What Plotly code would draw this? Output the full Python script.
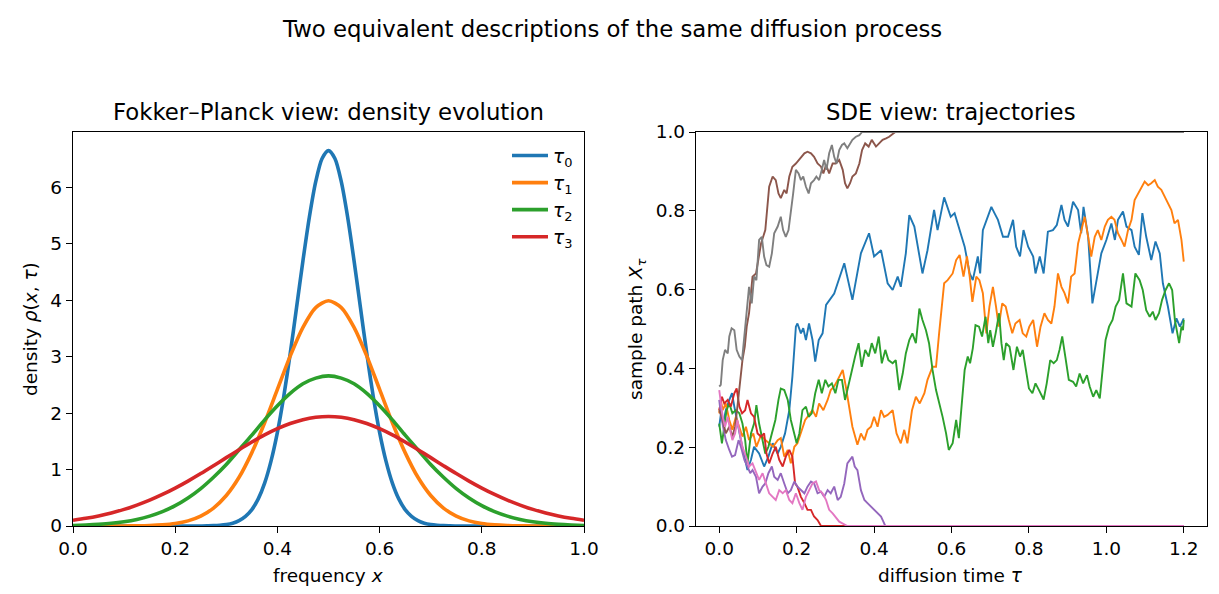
import plotly.graph_objects as go
from plotly.subplots import make_subplots

# ---- left panel: density curves ----
x_grid = [0.0, 0.025, 0.05, 0.075, 0.1, 0.125, 0.15, 0.175, 0.2, 0.225, 0.25, 0.275, 0.3, 0.325, 0.35,
          0.375, 0.4, 0.425, 0.45, 0.475, 0.5, 0.525, 0.55, 0.575, 0.6, 0.625, 0.65, 0.675, 0.7,
          0.725, 0.75, 0.775, 0.8, 0.825, 0.85, 0.875, 0.9, 0.925, 0.95, 0.975, 1.0]

# the narrow tau0 curve is read on a finer grid
x_fine = [0.0, 0.2, 0.25, 0.2625, 0.275, 0.2875, 0.3, 0.3125, 0.325, 0.3375, 0.35, 0.3625, 0.375, 0.3875, 0.4,
          0.4125, 0.425, 0.4375, 0.45, 0.4625, 0.475, 0.4875, 0.5, 0.5125, 0.525, 0.5375, 0.55, 0.5625, 0.575,
          0.5875, 0.6, 0.6125, 0.625, 0.6375, 0.65, 0.6625, 0.675, 0.6875, 0.7, 0.7125, 0.725, 0.7375, 0.75, 0.8, 1.0]
rho_tau0 = [0, 0, 0.001, 0.003, 0.006, 0.013, 0.026, 0.050, 0.094, 0.17, 0.29, 0.48, 0.76, 1.15, 1.66,
            2.30, 3.05, 3.87, 4.70, 5.47, 6.10, 6.51, 6.65, 6.51, 6.10, 5.47, 4.70, 3.87, 3.05,
            2.30, 1.66, 1.15, 0.76, 0.48, 0.29, 0.17, 0.094, 0.050, 0.026, 0.013, 0.006, 0.003, 0.001, 0, 0]
rho_tau1 = [0, 0.0001, 0.0002, 0.0005, 0.0013, 0.0035, 0.0087, 0.020, 0.044, 0.091, 0.175, 0.318, 0.540, 0.863,
            1.30, 1.83, 2.42, 3.01, 3.52, 3.87, 3.99, 3.87, 3.52, 3.01, 2.42, 1.83, 1.30, 0.863, 0.540,
            0.318, 0.175, 0.091, 0.044, 0.020, 0.0087, 0.0035, 0.0013, 0.0005, 0.0002, 0.0001, 0]
rho_tau2 = [0.010, 0.018, 0.030, 0.048, 0.076, 0.117, 0.175, 0.254, 0.360, 0.496, 0.663, 0.864, 1.09, 1.35,
            1.61, 1.88, 2.13, 2.35, 2.52, 2.62, 2.66, 2.62, 2.52, 2.35, 2.13, 1.88, 1.61, 1.35, 1.09,
            0.864, 0.663, 0.496, 0.360, 0.254, 0.175, 0.117, 0.076, 0.048, 0.030, 0.018, 0.010]
rho_tau3 = [0.102, 0.136, 0.178, 0.231, 0.294, 0.370, 0.458, 0.559, 0.672, 0.796, 0.929, 1.069, 1.211, 1.352,
            1.488, 1.614, 1.724, 1.816, 1.884, 1.926, 1.94, 1.926, 1.884, 1.816, 1.724, 1.614, 1.488,
            1.352, 1.211, 1.069, 0.929, 0.796, 0.672, 0.559, 0.458, 0.370, 0.294, 0.231, 0.178, 0.136, 0.102]

density_names = ["<i>τ</i><sub>0</sub>", "<i>τ</i><sub>1</sub>", "<i>τ</i><sub>2</sub>", "<i>τ</i><sub>3</sub>"]

# ---- right panel: sample paths as (tau, X) pairs ----
path_blue = [(0, 0.252), (0.004, 0.282), (0.01, 0.26), (0.017, 0.294), (0.026, 0.32), (0.033, 0.337), (0.039, 0.303),
             (0.047, 0.26), (0.056, 0.218), (0.065, 0.176), (0.073, 0.142), (0.082, 0.168), (0.09, 0.201), (0.103, 0.184),
             (0.116, 0.151), (0.127, 0.176), (0.138, 0.21), (0.151, 0.184), (0.159, 0.201), (0.17, 0.235), (0.181, 0.294),
             (0.189, 0.379), (0.198, 0.506), (0.202, 0.514), (0.211, 0.489), (0.217, 0.502), (0.224, 0.472), (0.232, 0.514),
             (0.241, 0.472), (0.248, 0.417), (0.257, 0.472), (0.267, 0.489), (0.276, 0.561), (0.297, 0.59), (0.323, 0.667),
             (0.344, 0.574), (0.366, 0.692), (0.387, 0.743), (0.40, 0.684), (0.418, 0.70), (0.435, 0.616), (0.448, 0.599),
             (0.461, 0.633), (0.469, 0.607), (0.482, 0.692), (0.491, 0.789), (0.504, 0.76), (0.525, 0.641), (0.538, 0.70),
             (0.555, 0.802), (0.564, 0.751), (0.581, 0.834), (0.598, 0.785), (0.608, 0.794), (0.621, 0.751), (0.634, 0.709),
             (0.647, 0.641), (0.655, 0.624), (0.668, 0.684), (0.674, 0.641), (0.681, 0.751), (0.694, 0.785), (0.703, 0.81),
             (0.711, 0.794), (0.72, 0.777), (0.733, 0.734), (0.746, 0.734), (0.759, 0.777), (0.767, 0.709), (0.777, 0.684),
             (0.786, 0.751), (0.798, 0.709), (0.811, 0.684), (0.817, 0.641), (0.828, 0.684), (0.838, 0.641), (0.849, 0.747),
             (0.862, 0.751), (0.872, 0.764), (0.884, 0.815), (0.892, 0.777), (0.901, 0.76), (0.914, 0.823), (0.927, 0.802),
             (0.935, 0.743), (0.941, 0.81), (0.953, 0.734), (0.964, 0.565), (0.974, 0.624), (0.987, 0.692), (1.0, 0.726),
             (1.013, 0.768), (1.022, 0.726), (1.03, 0.777), (1.043, 0.798), (1.052, 0.76), (1.065, 0.751), (1.073, 0.709),
             (1.084, 0.688), (1.093, 0.794), (1.103, 0.734), (1.116, 0.675), (1.127, 0.722), (1.138, 0.692), (1.146, 0.616),
             (1.159, 0.557), (1.171, 0.489), (1.181, 0.527), (1.19, 0.506), (1.2, 0.527)]

path_orange = [(0, 0.286), (0.004, 0.32), (0.009, 0.294), (0.017, 0.311), (0.026, 0.269), (0.034, 0.244), (0.043, 0.277),
               (0.052, 0.252), (0.06, 0.227), (0.069, 0.252), (0.077, 0.218), (0.088, 0.235), (0.096, 0.201), (0.108, 0.231),
               (0.119, 0.218), (0.129, 0.21), (0.139, 0.201), (0.151, 0.218), (0.159, 0.223), (0.168, 0.176), (0.177, 0.193),
               (0.185, 0.159), (0.194, 0.201), (0.202, 0.21), (0.211, 0.235), (0.222, 0.269), (0.232, 0.282), (0.241, 0.294),
               (0.25, 0.277), (0.258, 0.311), (0.269, 0.294), (0.28, 0.32), (0.288, 0.345), (0.297, 0.354), (0.306, 0.371),
               (0.319, 0.396), (0.327, 0.354), (0.336, 0.303), (0.344, 0.252), (0.357, 0.206), (0.366, 0.235), (0.375, 0.218),
               (0.383, 0.244), (0.392, 0.252), (0.40, 0.277), (0.409, 0.252), (0.418, 0.294), (0.426, 0.277), (0.435, 0.282),
               (0.448, 0.294), (0.458, 0.235), (0.469, 0.21), (0.478, 0.244), (0.486, 0.21), (0.498, 0.294), (0.508, 0.328),
               (0.518, 0.311), (0.53, 0.337), (0.538, 0.371), (0.551, 0.404), (0.56, 0.404), (0.568, 0.489), (0.581, 0.616),
               (0.59, 0.624), (0.603, 0.641), (0.612, 0.675), (0.621, 0.688), (0.631, 0.633), (0.64, 0.684), (0.647, 0.633),
               (0.654, 0.569), (0.664, 0.633), (0.672, 0.624), (0.681, 0.591), (0.69, 0.489), (0.698, 0.557), (0.707, 0.607),
               (0.715, 0.557), (0.722, 0.506), (0.731, 0.565), (0.74, 0.557), (0.748, 0.523), (0.757, 0.489), (0.765, 0.514),
               (0.776, 0.523), (0.784, 0.489), (0.793, 0.481), (0.801, 0.506), (0.811, 0.523), (0.821, 0.455), (0.83, 0.506),
               (0.84, 0.54), (0.849, 0.523), (0.858, 0.514), (0.866, 0.557), (0.875, 0.641), (0.884, 0.607), (0.892, 0.591),
               (0.901, 0.565), (0.909, 0.633), (0.918, 0.641), (0.927, 0.717), (0.935, 0.751), (0.944, 0.785), (0.953, 0.734),
               (0.961, 0.684), (0.97, 0.734), (0.978, 0.751), (0.987, 0.726), (0.996, 0.76), (1.004, 0.777), (1.013, 0.785),
               (1.021, 0.777), (1.03, 0.743), (1.039, 0.726), (1.047, 0.709), (1.056, 0.751), (1.065, 0.777), (1.073, 0.827),
               (1.082, 0.844), (1.09, 0.861), (1.099, 0.874), (1.108, 0.865), (1.116, 0.87), (1.125, 0.878), (1.133, 0.861),
               (1.142, 0.853), (1.151, 0.836), (1.159, 0.823), (1.168, 0.802), (1.176, 0.768), (1.185, 0.777), (1.194, 0.726),
               (1.2, 0.671)]

path_green = [(0, 0.26), (0.007, 0.21), (0.013, 0.252), (0.019, 0.294), (0.026, 0.311), (0.034, 0.286), (0.043, 0.294),
              (0.052, 0.286), (0.06, 0.26), (0.067, 0.218), (0.073, 0.159), (0.082, 0.235), (0.09, 0.26), (0.096, 0.307),
              (0.103, 0.26), (0.112, 0.218), (0.119, 0.184), (0.127, 0.201), (0.136, 0.235), (0.145, 0.269), (0.153, 0.32),
              (0.159, 0.349), (0.168, 0.345), (0.177, 0.32), (0.185, 0.269), (0.194, 0.235), (0.2, 0.21), (0.207, 0.235),
              (0.215, 0.294), (0.224, 0.303), (0.231, 0.277), (0.239, 0.286), (0.248, 0.337), (0.257, 0.371), (0.265, 0.337),
              (0.274, 0.371), (0.282, 0.354), (0.291, 0.362), (0.30, 0.337), (0.308, 0.371), (0.317, 0.371), (0.325, 0.32),
              (0.334, 0.362), (0.343, 0.396), (0.351, 0.43), (0.36, 0.464), (0.368, 0.404), (0.377, 0.447), (0.386, 0.43),
              (0.394, 0.464), (0.403, 0.438), (0.412, 0.481), (0.42, 0.413), (0.429, 0.447), (0.437, 0.421), (0.448, 0.413),
              (0.456, 0.421), (0.465, 0.345), (0.474, 0.387), (0.482, 0.438), (0.491, 0.472), (0.499, 0.489), (0.508, 0.464),
              (0.517, 0.552), (0.525, 0.523), (0.534, 0.497), (0.542, 0.464), (0.551, 0.396), (0.56, 0.345), (0.569, 0.31),
              (0.577, 0.277), (0.586, 0.235), (0.593, 0.193), (0.603, 0.21), (0.612, 0.269), (0.619, 0.223), (0.627, 0.32),
              (0.634, 0.396), (0.642, 0.43), (0.648, 0.413), (0.655, 0.451), (0.662, 0.51), (0.671, 0.506), (0.679, 0.481),
              (0.688, 0.531), (0.695, 0.464), (0.7, 0.497), (0.707, 0.455), (0.714, 0.489), (0.723, 0.54), (0.729, 0.464),
              (0.735, 0.421), (0.741, 0.464), (0.75, 0.455), (0.76, 0.396), (0.769, 0.455), (0.777, 0.43), (0.784, 0.447),
              (0.791, 0.404), (0.8, 0.349), (0.809, 0.337), (0.817, 0.362), (0.826, 0.345), (0.838, 0.321), (0.846, 0.362),
              (0.855, 0.421), (0.864, 0.413), (0.872, 0.421), (0.879, 0.447), (0.886, 0.481), (0.894, 0.43), (0.903, 0.371),
              (0.914, 0.366), (0.922, 0.354), (0.931, 0.387), (0.94, 0.362), (0.95, 0.383), (0.957, 0.354), (0.966, 0.328),
              (0.974, 0.345), (0.983, 0.324), (0.991, 0.396), (0.998, 0.472), (1.007, 0.506), (1.016, 0.523), (1.024, 0.557),
              (1.033, 0.574), (1.043, 0.641), (1.052, 0.565), (1.065, 0.557), (1.075, 0.641), (1.086, 0.624), (1.094, 0.599),
              (1.103, 0.548), (1.112, 0.531), (1.12, 0.544), (1.127, 0.523), (1.136, 0.54), (1.144, 0.574), (1.153, 0.599),
              (1.162, 0.616), (1.17, 0.599), (1.177, 0.523), (1.188, 0.464), (1.194, 0.506), (1.198, 0.497), (1.2, 0.523)]

path_red = [(0, 0.294), (0.007, 0.328), (0.013, 0.311), (0.022, 0.32), (0.03, 0.303), (0.039, 0.337), (0.045, 0.349),
            (0.052, 0.303), (0.059, 0.286), (0.067, 0.294), (0.073, 0.32), (0.082, 0.286), (0.09, 0.277), (0.099, 0.235),
            (0.108, 0.227), (0.116, 0.235), (0.122, 0.184), (0.129, 0.159), (0.138, 0.184), (0.146, 0.201), (0.155, 0.168),
            (0.164, 0.151), (0.172, 0.176), (0.181, 0.193), (0.189, 0.176), (0.196, 0.108), (0.202, 0.10), (0.211, 0.074),
            (0.22, 0.058), (0.228, 0.041), (0.237, 0.041), (0.245, 0.024), (0.254, 0.015), (0.263, 0.0), (1.2, 0.0)]

path_purple = [(0, 0.32), (0.004, 0.286), (0.01, 0.252), (0.017, 0.218), (0.026, 0.193), (0.033, 0.176), (0.041, 0.18),
               (0.05, 0.218), (0.056, 0.201), (0.065, 0.168), (0.073, 0.151), (0.08, 0.134), (0.086, 0.142), (0.095, 0.125),
               (0.103, 0.083), (0.112, 0.10), (0.119, 0.108), (0.127, 0.134), (0.136, 0.151), (0.142, 0.125), (0.151, 0.117),
               (0.159, 0.134), (0.168, 0.108), (0.177, 0.083), (0.185, 0.091), (0.194, 0.113), (0.202, 0.10), (0.211, 0.091),
               (0.22, 0.083), (0.228, 0.10), (0.237, 0.113), (0.245, 0.108), (0.254, 0.083), (0.263, 0.087), (0.271, 0.074),
               (0.28, 0.091), (0.288, 0.083), (0.297, 0.10), (0.306, 0.066), (0.314, 0.074), (0.323, 0.108), (0.331, 0.159),
               (0.338, 0.168), (0.344, 0.176), (0.35, 0.151), (0.357, 0.142), (0.366, 0.091), (0.375, 0.066), (0.383, 0.058),
               (0.392, 0.049), (0.40, 0.041), (0.409, 0.032), (0.418, 0.024), (0.424, 0.011), (0.429, 0.0), (1.2, 0.0)]

path_brown = [(0, 0.294), (0.009, 0.269), (0.017, 0.235), (0.026, 0.252), (0.034, 0.227), (0.041, 0.252), (0.047, 0.303),
              (0.053, 0.362), (0.06, 0.421), (0.066, 0.455), (0.071, 0.506), (0.077, 0.54), (0.086, 0.633), (0.095, 0.641),
              (0.108, 0.717), (0.119, 0.751), (0.129, 0.861), (0.138, 0.887), (0.146, 0.878), (0.153, 0.844), (0.159, 0.832),
              (0.168, 0.853), (0.174, 0.844), (0.181, 0.887), (0.189, 0.912), (0.198, 0.92), (0.205, 0.929), (0.211, 0.937),
              (0.22, 0.946), (0.228, 0.95), (0.237, 0.946), (0.245, 0.937), (0.254, 0.92), (0.263, 0.912), (0.269, 0.895),
              (0.276, 0.916), (0.284, 0.895), (0.293, 0.92), (0.301, 0.92), (0.31, 0.929), (0.319, 0.904), (0.325, 0.87),
              (0.331, 0.857), (0.338, 0.87), (0.344, 0.887), (0.353, 0.895), (0.362, 0.92), (0.369, 0.954), (0.377, 0.971),
              (0.386, 0.963), (0.394, 0.98), (0.405, 0.963), (0.413, 0.971), (0.422, 0.98), (0.431, 0.984), (0.439, 0.988),
              (0.448, 0.995), (0.455, 1.0), (1.2, 1.0)]

path_pink = [(0, 0.345), (0.004, 0.311), (0.009, 0.277), (0.015, 0.252), (0.022, 0.277), (0.028, 0.244), (0.034, 0.218),
             (0.041, 0.235), (0.047, 0.269), (0.053, 0.235), (0.06, 0.201), (0.069, 0.176), (0.077, 0.151), (0.086, 0.159),
             (0.095, 0.134), (0.103, 0.117), (0.112, 0.134), (0.121, 0.108), (0.129, 0.083), (0.138, 0.074), (0.146, 0.066),
             (0.155, 0.091), (0.164, 0.083), (0.172, 0.091), (0.181, 0.066), (0.189, 0.058), (0.198, 0.083), (0.207, 0.058),
             (0.215, 0.041), (0.224, 0.074), (0.232, 0.091), (0.241, 0.108), (0.25, 0.113), (0.258, 0.091), (0.267, 0.083),
             (0.276, 0.066), (0.284, 0.041), (0.293, 0.032), (0.31, 0.011), (0.327, 0.003), (0.331, 0.0), (1.2, 0.0)]

path_gray = [(0, 0.354), (0.004, 0.358), (0.009, 0.421), (0.015, 0.447), (0.022, 0.438), (0.026, 0.481), (0.032, 0.502),
             (0.039, 0.497), (0.045, 0.447), (0.052, 0.43), (0.059, 0.421), (0.065, 0.481), (0.069, 0.523), (0.073, 0.557),
             (0.077, 0.607), (0.084, 0.565), (0.09, 0.633), (0.096, 0.624), (0.103, 0.726), (0.11, 0.734), (0.116, 0.684),
             (0.122, 0.662), (0.129, 0.658), (0.136, 0.692), (0.142, 0.743), (0.151, 0.76), (0.159, 0.785), (0.165, 0.751),
             (0.172, 0.734), (0.179, 0.751), (0.185, 0.794), (0.191, 0.844), (0.198, 0.904), (0.205, 0.895), (0.211, 0.878),
             (0.217, 0.887), (0.224, 0.861), (0.231, 0.844), (0.237, 0.87), (0.245, 0.878), (0.251, 0.887), (0.258, 0.878),
             (0.265, 0.904), (0.271, 0.929), (0.277, 0.904), (0.284, 0.946), (0.291, 0.967), (0.297, 0.937), (0.303, 0.92),
             (0.31, 0.954), (0.317, 0.967), (0.323, 0.971), (0.331, 0.959), (0.338, 0.971), (0.344, 0.98), (0.353, 0.988),
             (0.362, 0.992), (0.369, 1.0), (1.2, 1.0)]

paths = [path_blue, path_orange, path_green, path_red, path_purple, path_brown, path_pink, path_gray]

tab10 = ["#1f77b4", "#ff7f0e", "#2ca02c", "#d62728", "#9467bd", "#8c564b", "#e377c2", "#7f7f7f"]

W, H = 1219, 594
FONT = "DejaVu Sans"

fig = make_subplots(rows=1, cols=2)

density_x = [x_fine, x_grid, x_grid, x_grid]
for i, rho in enumerate([rho_tau0, rho_tau1, rho_tau2, rho_tau3]):
    fig.add_trace(go.Scatter(x=density_x[i], y=rho, mode="lines", name=density_names[i],
                             line=dict(color=tab10[i], width=3.6, shape="spline", smoothing=0.8)),
                  row=1, col=1)

for i, p in enumerate(paths):
    fig.add_trace(go.Scatter(x=[a for a, b in p], y=[b for a, b in p], mode="lines",
                             line=dict(color=tab10[i], width=1.9), showlegend=False),
                  row=1, col=2)

axis_style = dict(showline=True, linecolor="black", linewidth=1.4, mirror=True,
                  ticks="outside", ticklen=6, tickwidth=1.4, tickcolor="black",
                  showgrid=False, zeroline=False, automargin=False,
                  tickfont=dict(family=FONT, size=18.5, color="black"))

# left axes: spines at x 73..584 px, y 132..526 px
fig.update_xaxes(domain=[73 / W, 584 / W], range=[0, 1], tickvals=[0, 0.2, 0.4, 0.6, 0.8, 1.0],
                 tickformat=".1f", **axis_style, row=1, col=1)
fig.update_yaxes(domain=[(H - 526) / H, (H - 132) / H], range=[0, 6.98], tickvals=[0, 1, 2, 3, 4, 5, 6],
                 **axis_style, row=1, col=1)
# right axes: spines at x 696..1207 px
fig.update_xaxes(domain=[696 / W, 1207 / W], range=[-0.06, 1.26], tickvals=[0, 0.2, 0.4, 0.6, 0.8, 1.0, 1.2],
                 tickformat=".1f", **axis_style, row=1, col=2)
fig.update_yaxes(domain=[(H - 526) / H, (H - 132) / H], range=[0, 1], tickvals=[0, 0.2, 0.4, 0.6, 0.8, 1.0],
                 tickformat=".1f", **axis_style, row=1, col=2)

def px_note(text, x, y, size, angle=0):
    fig.add_annotation(text=text, x=x / W, y=1 - y / H, xref="paper", yref="paper",
                       showarrow=False, textangle=angle, xanchor="center", yanchor="middle",
                       font=dict(family=FONT, size=size, color="black"))

px_note("Two equivalent descriptions of the same diffusion process", 612, 29, 22.8)
px_note("Fokker–Planck view: density evolution", 329, 112, 22.8)
px_note("SDE view: trajectories", 951, 112, 22.8)
px_note("frequency <i>x</i>", 328, 575, 18.5)
px_note("diffusion time <i>τ</i>", 951, 575, 18.5)
px_note("density <i>ρ</i>(<i>x</i>, <i>τ</i>)", 30, 329, 18.5, -90)
px_note("sample path <i>X</i><sub><i>τ</i></sub>", 637, 329, 18.5, -90)

fig.update_layout(
    width=W, height=H,
    margin=dict(l=0, r=0, t=0, b=0, autoexpand=False),
    paper_bgcolor="white", plot_bgcolor="white",
    font=dict(family=FONT, color="black"),
    legend=dict(x=578 / W, y=1 - 137 / H, xanchor="right", yanchor="top",
                bgcolor="rgba(0,0,0,0)", font=dict(family=FONT, size=18.5),
                itemwidth=36, tracegroupgap=2),
)

# drop the default 8px page margin so the figure sits at the window origin
fig.write_html("out.html", config={"displayModeBar": False},
               post_script="document.body.style.margin='0px';")
